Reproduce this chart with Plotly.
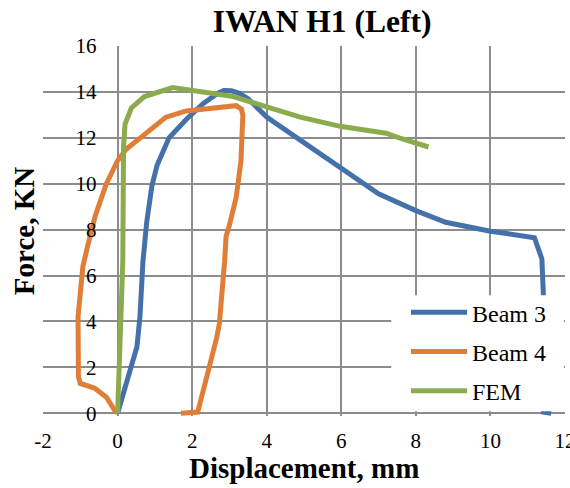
import plotly.graph_objects as go

# Force-displacement curves, IWAN H1 (left side)
beam3_x = [0, 0.25, 0.52, 0.6, 0.68, 0.78, 0.92, 1.06, 1.38, 1.84, 2.3, 2.7, 2.85, 3.05, 3.25, 3.5, 3.8, 4.0, 4.9, 5.97, 7.0, 8.0, 8.8, 10.0, 10.6, 11.18, 11.38, 11.42, 11.42, 11.63]
beam3_y = [0, 1.4, 2.9, 4.2, 6.6, 8.3, 9.9, 10.8, 12.0, 12.8, 13.5, 13.95, 14.06, 14.05, 13.95, 13.7, 13.2, 12.9, 11.9, 10.68, 9.56, 8.83, 8.32, 7.93, 7.78, 7.65, 6.72, 5.2, 0.05, 0.0]

beam4_x = [0, -0.08, -0.3, -0.62, -1.0, -1.05, -1.06, -1.0, -0.93, -0.8, -0.6, -0.3, 0.0, 0.23, 0.77, 1.3, 1.84, 2.47, 3.18, 3.32, 3.36, 3.31, 3.18, 3.0, 2.91, 2.87, 2.73, 2.66, 2.38, 2.15, 1.7]
beam4_y = [0, 0.13, 0.7, 1.1, 1.3, 1.58, 4.2, 5.4, 6.4, 7.3, 8.6, 10.0, 11.0, 11.5, 12.2, 12.9, 13.17, 13.3, 13.4, 13.25, 13.0, 11.0, 9.4, 8.2, 7.7, 6.6, 3.9, 3.3, 1.43, 0.05, 0.0]

fem_x = [0, 0.14, 0.16, 0.2, 0.37, 0.72, 1.48, 2.2, 3.1, 4.0, 4.9, 5.97, 7.2, 7.6, 8.34]
fem_y = [0, 6.6, 11.6, 12.6, 13.3, 13.8, 14.19, 14.0, 13.8, 13.35, 12.9, 12.5, 12.2, 11.97, 11.6]

x_ticks = [-2, 0, 2, 4, 6, 8, 10, 12]
y_ticks = [0, 2, 4, 6, 8, 10, 12, 14, 16]

series = [
    ("Beam 3", beam3_x, beam3_y, "#4571AB"),
    ("Beam 4", beam4_x, beam4_y, "#E07D36"),
    ("FEM", fem_x, fem_y, "#8CAB4C"),
]

SERIF = "Liberation Serif"
GRID = "#8c8c8c"

fig = go.Figure()
for name, xs, ys, color in series:
    fig.add_trace(go.Scatter(
        x=xs, y=ys, mode="lines", name=name, legendgroup=name,
        line=dict(color=color, width=5),
    ))

fig.update_layout(
    width=570, height=488,
    margin=dict(l=43, r=5, t=46, b=72, autoexpand=False),
    paper_bgcolor="white", plot_bgcolor="white",
    font=dict(family=SERIF, color="black"),
    title=dict(text="IWAN H1 (Left)", x=0.565, xanchor="center",
               y=1 - 21 / 488, yanchor="middle",
               font=dict(family=SERIF, size=31.5, weight=700, color="black")),
    xaxis=dict(range=[-2, 12], tickvals=x_ticks, ticktext=[str(v) for v in x_ticks],
               showgrid=True, gridcolor=GRID, gridwidth=1.5, zeroline=False,
               showline=False, ticks="", ticklabelstandoff=10,
               ticklabeloverflow="allow", automargin=False,
               tickfont=dict(family=SERIF, size=21, color="black")),
    yaxis=dict(range=[-0.12, 16], tickvals=y_ticks, ticktext=[str(v) for v in y_ticks],
               showgrid=True, gridcolor=GRID, gridwidth=1.5, zeroline=False,
               anchor="free", position=2 / 14, showline=False, ticks="",
               ticklabelstandoff=21, ticklabeloverflow="allow", automargin=False,
               tickfont=dict(family=SERIF, size=21, color="black")),
    showlegend=True,
    legend=dict(x=(406 - 43) / 522, xanchor="left", y=(415.75 - 290) / 369.75, yanchor="top",
                bgcolor="rgba(0,0,0,0)", borderwidth=0, itemwidth=56,
                tracegroupgap=5, font=dict(family=SERIF, size=24, color="black")),
    annotations=[
        dict(text="Displacement, mm", xref="paper", yref="paper",
             x=0.5, y=-(468 - 415.75) / 369.75, xanchor="center", yanchor="middle",
             showarrow=False, font=dict(family=SERIF, size=29, weight=700, color="black")),
        dict(text="Force, KN", xref="paper", yref="paper", textangle=-90,
             x=(24 - 43) / 522, y=(415.75 - 231) / 369.75, xanchor="center", yanchor="middle",
             showarrow=False, font=dict(family=SERIF, size=29, weight=700, color="black")),
    ],
    shapes=[
        # white panel behind the legend
        dict(type="rect", xref="x", yref="y", x0=7.34, x1=11.97, y0=0.09, y1=5.14,
             fillcolor="white", line=dict(width=0), layer="above"),
    ],
)

fig.write_html("out.html")
